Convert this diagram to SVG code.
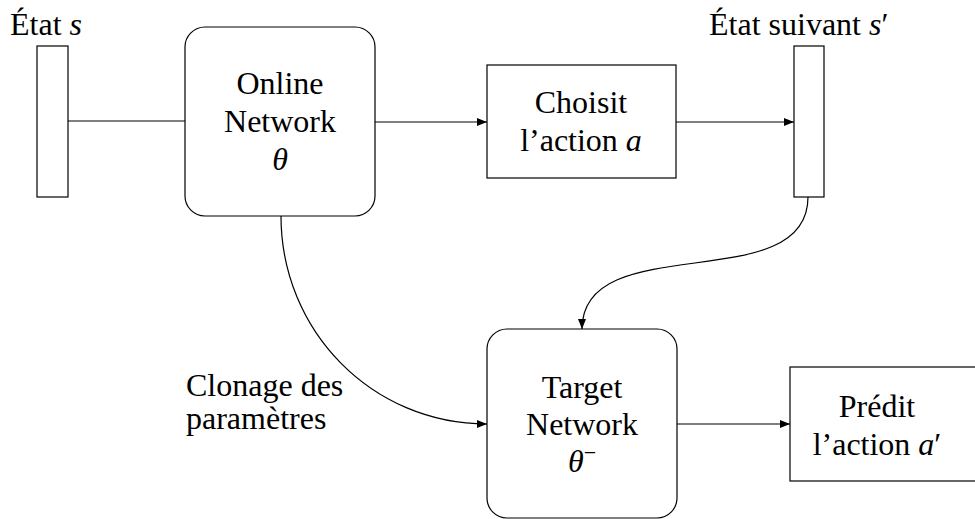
<svg xmlns="http://www.w3.org/2000/svg" width="975" height="519" viewBox="0 0 975 519">
<style>
.box{fill:#fff;stroke:#000;stroke-width:1.2}
.edge{fill:none;stroke:#000;stroke-width:1.2}
</style>
<defs>
<marker id="arr" viewBox="0 0 10 8" refX="10" refY="4" markerWidth="10" markerHeight="8" markerUnits="userSpaceOnUse" orient="auto">
<path d="M0,0 L10,4 L0,8 Z" fill="#000"/>
</marker>
</defs>
<g id="connectors">
<line class="edge" x1="68" y1="121" x2="185" y2="121"/>
<line class="edge" x1="375" y1="122" x2="487" y2="122" marker-end="url(#arr)"/>
<line class="edge" x1="676" y1="122" x2="794" y2="122" marker-end="url(#arr)"/>
<path class="edge" d="M808,197 C808,299 582,227 582,329" marker-end="url(#arr)"/>
<path class="edge" d="M281,216 C281,331 372,424 487,424" marker-end="url(#arr)"/>
<line class="edge" x1="677" y1="424" x2="790" y2="424" marker-end="url(#arr)"/>
</g>
<g id="etat">
<rect class="box" x="37" y="46" width="31" height="151"/>
<text x="10" y="35" font-size="32" font-family="Liberation Serif">État <tspan font-style="italic">s</tspan></text>
</g>
<g id="online">
<rect class="box" x="185" y="27" width="190" height="189" rx="20" ry="20"/>
<text x="280" y="94" font-size="32" font-family="Liberation Serif" text-anchor="middle">Online</text>
<text x="280" y="132" font-size="32" font-family="Liberation Serif" text-anchor="middle">Network</text>
<text x="280" y="170" font-size="32" font-family="Liberation Serif" text-anchor="middle" font-style="italic">θ</text>
</g>
<g id="choisit">
<rect class="box" x="487" y="65" width="189" height="113"/>
<text x="581" y="113" font-size="32" font-family="Liberation Serif" text-anchor="middle">Choisit</text>
<text x="581" y="151" font-size="32" font-family="Liberation Serif" text-anchor="middle">l’action <tspan font-style="italic">a</tspan></text>
</g>
<g id="etat-suivant">
<rect class="box" x="794" y="46" width="30" height="151"/>
<text x="709" y="35" font-size="32" font-family="Liberation Serif">État suivant <tspan font-style="italic">s</tspan>′</text>
</g>
<g id="target">
<rect class="box" x="487" y="329" width="190" height="189" rx="20" ry="20"/>
<text x="582" y="398" font-size="32" font-family="Liberation Serif" text-anchor="middle">Target</text>
<text x="582" y="435" font-size="32" font-family="Liberation Serif" text-anchor="middle">Network</text>
<text x="582" y="472" font-size="32" font-family="Liberation Serif" text-anchor="middle"><tspan font-style="italic">θ</tspan><tspan font-size="22" dy="-12">−</tspan></text>
</g>
<g id="predit">
<rect class="box" x="790" y="367" width="200" height="114"/>
<text x="877" y="417" font-size="32" font-family="Liberation Serif" text-anchor="middle">Prédit</text>
<text x="877" y="455" font-size="32" font-family="Liberation Serif" text-anchor="middle">l’action <tspan font-style="italic">a</tspan>′</text>
</g>
<g id="clonage">
<text x="186" y="396" font-size="32" font-family="Liberation Serif">Clonage des</text>
<text x="186" y="429" font-size="32" font-family="Liberation Serif">paramètres</text>
</g>
</svg>
